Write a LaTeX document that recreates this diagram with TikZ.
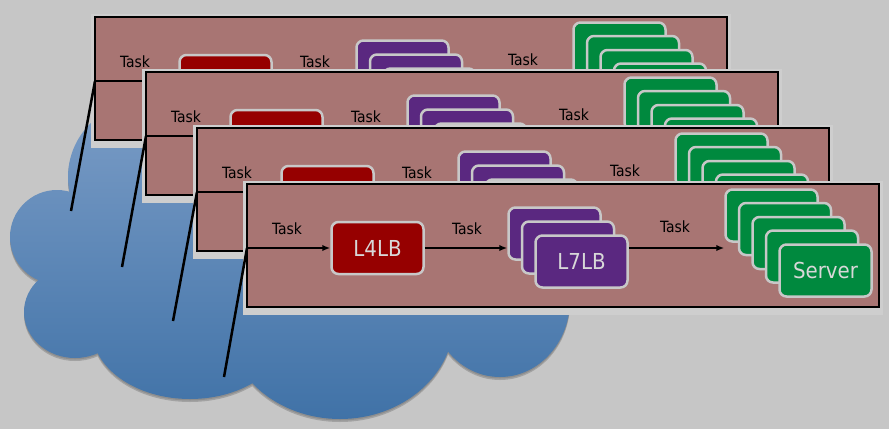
\documentclass[tikz,border=0pt]{standalone}
\usepackage{fontspec}
\setmainfont{DejaVu Sans Condensed}
\usepackage{xcolor}
\usepackage{tikz}
\usetikzlibrary{arrows.meta}

\definecolor{bg}{RGB}{198,198,198}
\definecolor{halo}{RGB}{206,206,206}
\definecolor{panelfill}{RGB}{168,117,115}
\definecolor{l4red}{RGB}{150,0,0}
\definecolor{l7purple}{RGB}{90,40,128}
\definecolor{srvgreen}{RGB}{0,137,62}
\definecolor{boxline}{RGB}{200,200,200}
\definecolor{boxtext}{RGB}{216,216,216}
\definecolor{cloudtop}{RGB}{122,156,198}
\definecolor{cloudbot}{RGB}{64,114,167}

\newcommand{\cloudshape}{(143,177) circle (75) (57,237) circle (47)
	(75,312) ellipse (51 and 46) (190,330) ellipse (98 and 69)
	(340,320) ellipse (114 and 99) (500,300) ellipse (70 and 77)
	(300,250) ellipse (230 and 110)}

\begin{document}
\begin{tikzpicture}
	[x=1pt, y=-1pt,
	panel/.style={draw, line width=2.5pt, fill=panelfill, minimum width=632pt, minimum height=123pt, inner sep=0pt},
	lb/.style={draw=boxline, line width=2.5pt, rounded corners=7pt, minimum width=92pt, minimum height=52pt, inner sep=0pt, text=boxtext, font=\fontsize{22}{24}\selectfont},
	srv/.style={lb, fill=srvgreen},
	task/.style={font=\fontsize{15.5}{18}\selectfont, inner sep=0pt},
	arr/.style={line width=1.8pt, -{Latex[length=8pt,width=6.5pt]}},
	wire/.style={line width=2.5pt}]

	\path[use as bounding box, fill=bg] (0,0) rectangle (889,429);

	% cloud
	\fill[black, opacity=0.18, yshift=-3pt] \cloudshape;
	\fill[black, opacity=0.12, yshift=-1.5pt] \cloudshape;
	\shade[top color=cloudtop, bottom color=cloudbot] \cloudshape;

	\begin{scope}[shift={(95,17)}]
		\fill[halo] (-4,-3) rectangle (636,131);
		\node[panel] (p) at (316,61.5) {};
		\coordinate (in) at (0,64);
		\coordinate (cl) at (-24,194);
		\node[task] (t1) at (40,45) {Task};
		\node[lb, fill=l4red] (l4) at (130.5,64) {L4LB};
		\node[task] (t2) at (220,45) {Task};
		\node[lb, fill=l7purple] (l7a) at (307.5,49.5) {};
		\node[lb, fill=l7purple] (l7b) at (321,63.5) {};
		\node[lb, fill=l7purple] (l7c) at (334.5,77.5) {L7LB};
		\node[task] (t3) at (428,43) {Task};
		\node[srv] (s1) at (524.5,31.5) {};
		\node[srv] (s2) at (538,45) {};
		\node[srv] (s3) at (551.5,59) {};
		\node[srv] (s4) at (565,72.5) {};
		\node[srv] (s5) at (578.5,86.5) {Server};
		\draw[arr] (in) -- (l4);
		\draw[arr] (l4) -- (l4 -| l7a.west);
		\draw[arr] (l7c.east |- in) -- (in -| s1.west);
		\draw[wire] (cl) -- (in);
	\end{scope}

	\begin{scope}[shift={(146,72)}]
		\fill[halo] (-4,-3) rectangle (636,131);
		\node[panel] (p) at (316,61.5) {};
		\coordinate (in) at (0,64);
		\coordinate (cl) at (-24,195);
		\node[task] (t1) at (40,45) {Task};
		\node[lb, fill=l4red] (l4) at (130.5,64) {L4LB};
		\node[task] (t2) at (220,45) {Task};
		\node[lb, fill=l7purple] (l7a) at (307.5,49.5) {};
		\node[lb, fill=l7purple] (l7b) at (321,63.5) {};
		\node[lb, fill=l7purple] (l7c) at (334.5,77.5) {L7LB};
		\node[task] (t3) at (428,43) {Task};
		\node[srv] (s1) at (524.5,31.5) {};
		\node[srv] (s2) at (538,45) {};
		\node[srv] (s3) at (551.5,59) {};
		\node[srv] (s4) at (565,72.5) {};
		\node[srv] (s5) at (578.5,86.5) {Server};
		\draw[arr] (in) -- (l4);
		\draw[arr] (l4) -- (l4 -| l7a.west);
		\draw[arr] (l7c.east |- in) -- (in -| s1.west);
		\draw[wire] (cl) -- (in);
	\end{scope}

	\begin{scope}[shift={(197,128)}]
		\fill[halo] (-4,-3) rectangle (636,131);
		\node[panel] (p) at (316,61.5) {};
		\coordinate (in) at (0,64);
		\coordinate (cl) at (-24,193);
		\node[task] (t1) at (40,45) {Task};
		\node[lb, fill=l4red] (l4) at (130.5,64) {L4LB};
		\node[task] (t2) at (220,45) {Task};
		\node[lb, fill=l7purple] (l7a) at (307.5,49.5) {};
		\node[lb, fill=l7purple] (l7b) at (321,63.5) {};
		\node[lb, fill=l7purple] (l7c) at (334.5,77.5) {L7LB};
		\node[task] (t3) at (428,43) {Task};
		\node[srv] (s1) at (524.5,31.5) {};
		\node[srv] (s2) at (538,45) {};
		\node[srv] (s3) at (551.5,59) {};
		\node[srv] (s4) at (565,72.5) {};
		\node[srv] (s5) at (578.5,86.5) {Server};
		\draw[arr] (in) -- (l4);
		\draw[arr] (l4) -- (l4 -| l7a.west);
		\draw[arr] (l7c.east |- in) -- (in -| s1.west);
		\draw[wire] (cl) -- (in);
	\end{scope}

	\begin{scope}[shift={(247,184)}]
		\fill[halo] (-4,-3) rectangle (636,131);
		\node[panel] (p) at (316,61.5) {};
		\coordinate (in) at (0,64);
		\coordinate (cl) at (-23,193);
		\node[task] (t1) at (40,45) {Task};
		\node[lb, fill=l4red] (l4) at (130.5,64) {L4LB};
		\node[task] (t2) at (220,45) {Task};
		\node[lb, fill=l7purple] (l7a) at (307.5,49.5) {};
		\node[lb, fill=l7purple] (l7b) at (321,63.5) {};
		\node[lb, fill=l7purple] (l7c) at (334.5,77.5) {L7LB};
		\node[task] (t3) at (428,43) {Task};
		\node[srv] (s1) at (524.5,31.5) {};
		\node[srv] (s2) at (538,45) {};
		\node[srv] (s3) at (551.5,59) {};
		\node[srv] (s4) at (565,72.5) {};
		\node[srv] (s5) at (578.5,86.5) {Server};
		\draw[arr] (in) -- (l4);
		\draw[arr] (l4) -- (l4 -| l7a.west);
		\draw[arr] (l7c.east |- in) -- (in -| s1.west);
		\draw[wire] (cl) -- (in);
	\end{scope}

\end{tikzpicture}
\end{document}
